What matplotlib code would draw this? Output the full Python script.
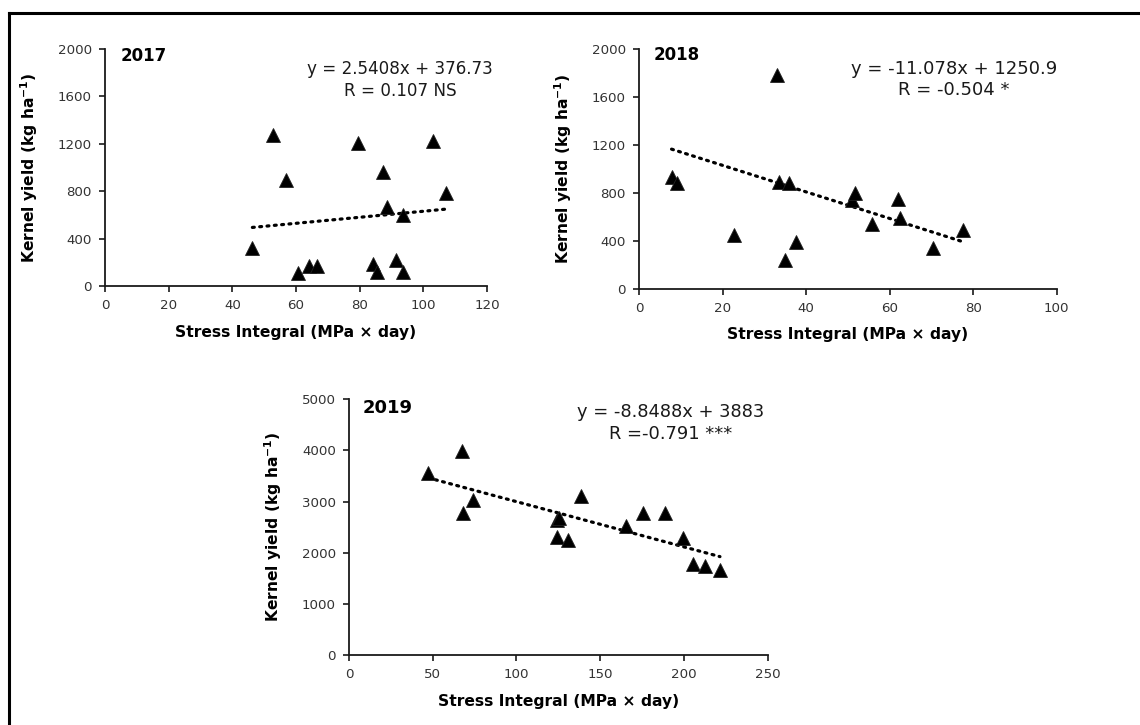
import matplotlib
matplotlib.use("Agg")
import matplotlib.pyplot as plt
from matplotlib.lines import Line2D

# ---- data: stress integral (MPa x day) vs kernel yield (kg/ha) ----
x2017 = [52.9, 56.8, 46.3, 60.5, 64.2, 66.6, 79.6, 84.3, 85.4, 87.4, 88.5,
         91.4, 93.7, 93.7, 103.1, 107.1]
y2017 = [1272, 895, 318, 113, 172, 172, 1210, 183, 121, 959, 669,
         219, 599, 115, 1224, 782]

x2018 = [7.8, 9.0, 22.7, 33.0, 33.6, 35.0, 36.0, 37.7, 50.9, 51.7, 55.9,
         62.1, 62.6, 70.3, 77.6]
y2018 = [930, 879, 448, 1783, 893, 239, 879, 392, 740, 796, 540,
         746, 587, 342, 490]

x2019 = [47.4, 67.7, 67.9, 73.8, 124.0, 125.6, 124.4, 130.9, 138.3, 165.2,
         175.3, 188.7, 199.6, 205.6, 212.5, 221.5]
y2019 = [3553, 3996, 2771, 3031, 2640, 2680, 2302, 2249, 3110, 2529,
         2771, 2771, 2282, 1773, 1747, 1662]

years = ["2017", "2018", "2019"]
slopes = [2.5408, -11.078, -8.8488]
intercepts = [376.73, 1250.9, 3883]
eq_text = ["y = 2.5408x + 376.73\nR = 0.107 NS",
           "y = -11.078x + 1250.9\nR = -0.504 *",
           "y = -8.8488x + 3883\nR =-0.791 ***"]
x_limits = [(0, 120), (0, 100), (0, 250)]
x_ticks = [[0, 20, 40, 60, 80, 100, 120],
           [0, 20, 40, 60, 80, 100],
           [0, 50, 100, 150, 200, 250]]
y_limits = [(0, 2000), (0, 2000), (0, 5000)]
y_ticks = [[0, 400, 800, 1200, 1600, 2000],
           [0, 400, 800, 1200, 1600, 2000],
           [0, 1000, 2000, 3000, 4000, 5000]]

plt.rcParams["font.family"] = ["DejaVu Sans"]
plt.rcParams["mathtext.fontset"] = "dejavusans"

fig = plt.figure(figsize=(11.4, 7.25), dpi=100)
fig.patch.set_facecolor("white")

rects = [[0.0921, 0.6055, 0.3351, 0.3269],
         [0.5605, 0.6018, 0.3664, 0.3306],
         [0.3061, 0.0966, 0.3673, 0.3527]]
data = [(x2017, y2017), (x2018, y2018), (x2019, y2019)]
eq_pos = [(0.772, 0.953), (0.754, 0.955), (0.769, 0.985)]
eq_size = [12.1, 13.0, 12.9]
year_size = [12, 12, 13]
year_pos = [(0.04, 1.01), (0.034, 1.012), (0.033, 1.0)]

axis_col = "#1a1a1a"
tick_col = "#333333"

for i, (rect, (xs, ys)) in enumerate(zip(rects, data)):
    ax = fig.add_axes(rect)
    ax.plot(xs, ys, linestyle="none", marker="^", markersize=10.5,
            markerfacecolor="black", markeredgecolor="#222222",
            markeredgewidth=0.6, zorder=3)
    x0, x1 = min(xs), max(xs)
    ax.plot([x0, x1],
            [slopes[i] * x0 + intercepts[i], slopes[i] * x1 + intercepts[i]],
            color="black", linewidth=2.3, linestyle=(0, (0.6, 1.7)),
            dash_capstyle="round", zorder=2)
    ax.set_xlim(*x_limits[i])
    ax.set_ylim(*y_limits[i])
    ax.set_xticks(x_ticks[i])
    ax.set_yticks(y_ticks[i])
    for side in ("top", "right"):
        ax.spines[side].set_visible(False)
    for side in ("left", "bottom"):
        ax.spines[side].set_color(axis_col)
        ax.spines[side].set_linewidth(1.3)
    ax.tick_params(direction="out", length=4.5, width=1.2, color=axis_col,
                   labelsize=9.6, labelcolor=tick_col, pad=5)
    ax.set_xlabel("Stress Integral (MPa × day)", fontsize=11.2,
                  fontweight="bold", labelpad=9, color="black")
    ax.set_ylabel(r"Kernel yield (kg ha$^{\mathbf{-1}}$)", fontsize=11.2,
                  fontweight="bold", labelpad=13, color="black")
    ax.text(year_pos[i][0], year_pos[i][1], years[i], transform=ax.transAxes,
            fontsize=year_size[i], fontweight="bold", va="top", ha="left",
            color="black")
    ax.text(eq_pos[i][0], eq_pos[i][1], eq_text[i], transform=ax.transAxes,
            fontsize=eq_size[i], va="top", ha="center", color="#1a1a1a",
            linespacing=1.25, multialignment="center")

# outer frame (top and left edges)
fig.add_artist(Line2D([9 / 1140, 1.0], [1 - 12.5 / 725, 1 - 12.5 / 725],
                      transform=fig.transFigure, color="black", linewidth=2.2))
fig.add_artist(Line2D([9 / 1140, 9 / 1140], [0.0, 1 - 12.5 / 725],
                      transform=fig.transFigure, color="black", linewidth=2.2))

fig.savefig("out.png", dpi=100, facecolor="white")
